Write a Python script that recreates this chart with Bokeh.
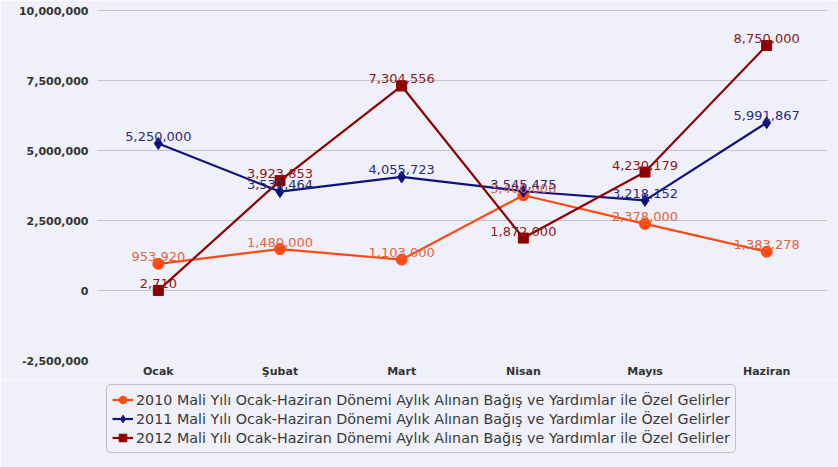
from bokeh.plotting import figure
from bokeh.layouts import column
from bokeh.models import (ColumnDataSource, FactorRange, Range1d, FixedTicker,
                          NumeralTickFormatter, Legend, LegendItem)
from bokeh.core.properties import value
from bokeh.embed import file_html
from bokeh.resources import INLINE

months = ["Ocak", "Şubat", "Mart", "Nisan", "Mayıs", "Haziran"]
y2010 = [953920, 1480000, 1103000, 3400000, 2378000, 1383278]
y2011 = [5250000, 3530464, 4055723, 3545475, 3218152, 5991867]
y2012 = [2710, 3923853, 7304556, 1872000, 4230179, 8750000]
y_ticks = [-2500000, 0, 2500000, 5000000, 7500000, 10000000]
legend_labels = [
    "2010 Mali Yılı Ocak-Haziran Dönemi Aylık Alınan Bağış ve Yardımlar ile Özel Gelirler",
    "2011 Mali Yılı Ocak-Haziran Dönemi Aylık Alınan Bağış ve Yardımlar ile Özel Gelirler",
    "2012 Mali Yılı Ocak-Haziran Dönemi Aylık Alınan Bağış ve Yardımlar ile Özel Gelirler",
]

BG = "#eff0f9"
FONT = "DejaVu Sans"

xr = FactorRange(*months, range_padding=0)
p = figure(width=838, height=380, output_backend="svg", toolbar_location=None,
           x_range=xr, y_range=Range1d(-2500000, 10357143),
           min_border_left=97, min_border_right=11, min_border_top=0,
           min_border_bottom=20)
p.background_fill_color = BG
p.border_fill_color = BG
p.outline_line_color = None
p.xgrid.grid_line_color = None
p.ygrid.grid_line_color = "#c4c4c8"
p.ygrid.grid_line_width = 1
p.yaxis.ticker = FixedTicker(ticks=y_ticks)
p.ygrid.ticker = FixedTicker(ticks=y_ticks)
p.yaxis.formatter = NumeralTickFormatter(format="0,0")
for ax in (p.xaxis, p.yaxis):
    ax.axis_line_color = None
    ax.major_tick_line_color = None
    ax.minor_tick_line_color = None
    ax.major_tick_out = 0
    ax.major_tick_in = 0
    ax.major_label_text_font = FONT
    ax.major_label_text_font_style = "bold"
    ax.major_label_text_font_size = "11px"
    ax.major_label_text_color = "#333333"
p.yaxis.major_label_standoff = 9
p.xaxis.major_label_standoff = 4

series = [
    (y2010, "#ff4a14", "#e4653e", "circle", 11),
    (y2011, "#12127e", "#2c2c7c", "diamond", 12),
    (y2012, "#8e0000", "#8e1a1a", "square", 10),
]
srcs = []
for vals, col, lcol, mk, sz in series:
    src = ColumnDataSource(dict(x=months, y=vals, t=[f"{v:,}" for v in vals]))
    srcs.append((src, lcol))
    p.line("x", "y", source=src, line_color=col, line_width=2.2)
    p.scatter("x", "y", source=src, marker=mk, size=sz, fill_color=col, line_color=col)

for src, lcol in srcs:
    p.text("x", "y", text="t", source=src, text_color=lcol, text_font=value(FONT),
           text_font_size="13px", text_align="center", text_baseline="alphabetic",
           y_offset=-7)

# legend strip below the chart (same series, drawn out of view; only the legend shows)
q = figure(width=838, height=87, output_backend="svg", toolbar_location=None,
           x_axis_type=None, y_axis_type=None,
           x_range=xr, y_range=Range1d(20000000, 21000000),
           min_border_left=97, min_border_right=11, min_border_top=0, min_border_bottom=0)
q.background_fill_color = BG
q.border_fill_color = BG
q.outline_line_color = None
q.grid.visible = False
items = []
for (vals, col, lcol, mk, sz), (src, _), lab in zip(series, srcs, legend_labels):
    r1 = q.line("x", "y", source=src, line_color=col, line_width=2.2)
    r2 = q.scatter("x", "y", source=src, marker=mk, size=sz, fill_color=col, line_color=col)
    items.append(LegendItem(label=lab, renderers=[r1, r2]))

legend = Legend(items=items, location=(9, 14), orientation="vertical")
legend.label_text_font = FONT
legend.label_text_font_size = "14.3px"
legend.label_text_color = "#3a3a3a"
legend.label_height = 19
legend.glyph_height = 19
legend.glyph_width = 21
legend.label_standoff = 3
legend.spacing = 0
legend.padding = 5
legend.margin = 0
legend.border_line_color = "#8c8c98"
legend.border_line_width = 1
legend.background_fill_color = BG
legend.background_fill_alpha = 1
if "border_radius" in Legend.properties():
    legend.border_radius = 5
q.add_layout(legend, "center")

layout = column(p, q, spacing=0)
open("out.html", "w").write(file_html(layout, INLINE))
